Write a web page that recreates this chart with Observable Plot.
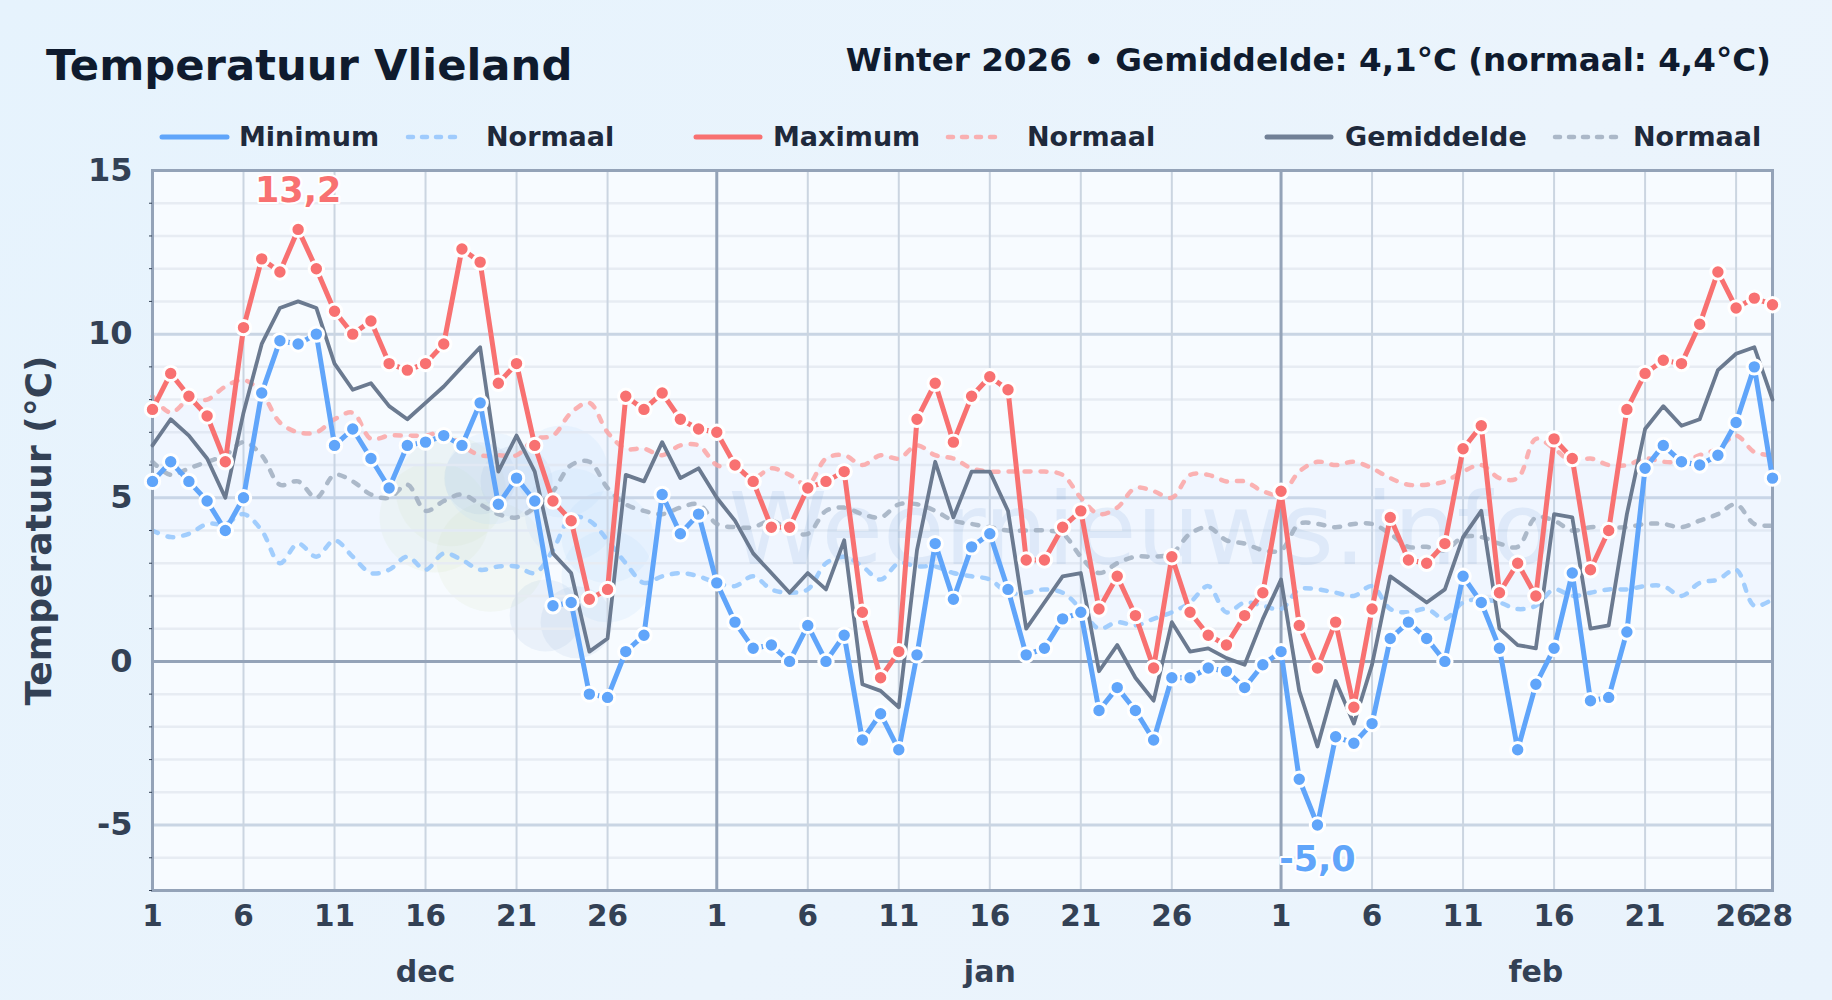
<!DOCTYPE html>
<html><head><meta charset="utf-8">
<script src="https://cdn.jsdelivr.net/npm/d3@7"></script>
<script src="https://cdn.jsdelivr.net/npm/@observablehq/plot@0.6"></script>
<style>
html,body{margin:0;padding:0;width:1832px;height:1000px;overflow:hidden;background:linear-gradient(135deg,#e6f3fd 0%,#ebf4fc 60%,#e9f3fc 100%);font-family:"DejaVu Sans",sans-serif;}
#wrap{position:relative;width:1832px;height:1000px;}
.t{position:absolute;white-space:nowrap;font-weight:700;line-height:1;}
#title{left:46px;top:44px;font-size:43.3px;color:#0f1b2e;}
#sub{right:61px;top:44px;font-size:32.6px;color:#0f1b2e;}
.lg{position:absolute;top:124px;font-size:27px;font-weight:700;color:#1e293b;line-height:26px;white-space:nowrap;}
.sw{position:absolute;top:120px;}
#chart{position:absolute;left:0;top:140px;}
</style></head><body>
<div id="wrap">
<div id="title" class="t">Temperatuur Vlieland</div>
<div id="sub" class="t">Winter 2026 • Gemiddelde: 4,1°C (normaal: 4,4°C)</div>
<div id="legend"></div>
<div id="chart"></div>
</div>
<script>
const minTemp=[5.5,6.1,5.5,4.9,4.0,5.0,8.2,9.8,9.7,10.0,6.6,7.1,6.2,5.3,6.6,6.7,6.9,6.6,7.9,4.8,5.6,4.9,1.7,1.8,-1.0,-1.1,0.3,0.8,5.1,3.9,4.5,
2.4,1.2,0.4,0.5,0.0,1.1,0.0,0.8,-2.4,-1.6,-2.7,0.2,3.6,1.9,3.5,3.9,2.2,0.2,0.4,1.3,1.5,-1.5,-0.8,-1.5,-2.4,-0.5,-0.5,-0.2,-0.3,-0.8,-0.1,
0.3,-3.6,-5.0,-2.3,-2.5,-1.9,0.7,1.2,0.7,0.0,2.6,1.8,0.4,-2.7,-0.7,0.4,2.7,-1.2,-1.1,0.9,5.9,6.6,6.1,6.0,6.3,7.3,9.0,5.6];
const maxTemp=[7.7,8.8,8.1,7.5,6.1,10.2,12.3,11.9,13.2,12.0,10.7,10.0,10.4,9.1,8.9,9.1,9.7,12.6,12.2,8.5,9.1,6.6,4.9,4.3,1.9,2.2,8.1,7.7,8.2,7.4,7.1,
7.0,6.0,5.5,4.1,4.1,5.3,5.5,5.8,1.5,-0.5,0.3,7.4,8.5,6.7,8.1,8.7,8.3,3.1,3.1,4.1,4.6,1.6,2.6,1.4,-0.2,3.2,1.5,0.8,0.5,1.4,2.1,
5.2,1.1,-0.2,1.2,-1.4,1.6,4.4,3.1,3.0,3.6,6.5,7.2,2.1,3.0,2.0,6.8,6.2,2.8,4.0,7.7,8.8,9.2,9.1,10.3,11.9,10.8,11.1,10.9];
const meanTemp=[6.6,7.4,6.9,6.2,5.0,7.6,9.7,10.8,11.0,10.8,9.1,8.3,8.5,7.8,7.4,7.9,8.4,9.0,9.6,5.8,6.9,5.8,3.3,2.7,0.3,0.7,5.7,5.5,6.7,5.6,5.9,
5.0,4.3,3.3,2.7,2.1,2.7,2.2,3.7,-0.7,-0.9,-1.4,3.4,6.1,4.4,5.8,5.8,4.6,1.0,1.8,2.6,2.7,-0.3,0.5,-0.5,-1.2,1.2,0.3,0.4,0.1,-0.1,1.3,
2.5,-0.9,-2.6,-0.6,-1.9,-0.1,2.6,2.2,1.8,2.2,3.8,4.6,1.0,0.5,0.4,4.5,4.4,1.0,1.1,4.5,7.1,7.8,7.2,7.4,8.9,9.4,9.6,8.0];
const normMax=[8.1,7.6,8.0,8.0,8.4,8.6,8.2,7.3,7.0,7.0,7.4,7.6,6.8,6.9,6.9,6.9,7.0,6.6,6.3,6.3,6.3,6.8,6.9,7.6,7.9,7.0,6.5,6.5,6.3,6.6,6.6,
6.0,5.9,5.6,5.9,5.7,5.4,6.2,6.3,6.0,6.3,6.2,6.6,6.3,6.2,5.9,5.8,5.8,5.8,5.8,5.7,5.0,4.5,4.7,5.3,5.2,5.0,5.7,5.7,5.5,5.5,5.2,
5.1,5.8,6.1,6.0,6.1,5.9,5.6,5.4,5.4,5.5,5.8,6.0,5.6,5.6,6.8,6.5,6.1,6.2,6.0,6.0,6.2,6.1,6.1,6.3,6.5,6.9,6.4,6.3];
const normMean=[6.1,5.7,5.9,6.1,6.3,6.7,6.3,5.4,5.5,5.0,5.7,5.5,5.1,5.0,5.4,4.6,4.9,5.1,4.8,4.5,4.4,4.7,5.2,6.0,6.1,5.3,4.8,4.6,4.5,4.7,4.8,
4.2,4.1,4.1,4.3,4.0,3.9,4.6,4.7,4.5,4.4,4.8,4.8,4.6,4.3,4.2,4.1,4.0,4.0,4.0,3.9,3.2,2.7,3.0,3.2,3.2,3.3,3.9,4.1,3.7,3.6,3.4,
3.4,4.2,4.2,4.1,4.2,4.2,3.9,3.5,3.5,3.4,3.8,3.8,3.6,3.5,4.4,4.3,4.0,4.1,4.1,4.1,4.2,4.2,4.1,4.3,4.5,4.8,4.2,4.15];
const normMin=[4.0,3.8,3.9,4.2,4.2,4.5,4.0,3.0,3.6,3.2,3.7,3.2,2.7,2.8,3.2,2.8,3.3,3.1,2.8,2.9,2.9,2.7,3.4,4.4,4.3,3.7,3.0,2.4,2.6,2.7,2.6,
2.4,2.3,2.6,2.2,2.1,2.2,3.0,3.2,2.9,2.5,3.0,2.9,2.9,2.7,2.6,2.5,2.1,2.1,2.2,2.1,1.6,1.0,1.2,1.1,1.3,1.5,1.8,2.3,1.5,1.8,1.7,
1.6,2.2,2.2,2.1,2.0,2.3,1.6,1.5,1.6,1.3,1.8,1.9,1.8,1.6,1.7,2.2,2.0,2.1,2.2,2.2,2.3,2.3,2.0,2.4,2.5,2.8,1.7,1.9];
const monthNames=["dec","jan","feb"];
const monthLabelDays=[15,46,76];
const monthStarts=[31,62];
const tickDays=[0,5,10,15,20,25,31,36,41,46,51,56,62,67,72,77,82,87,89];
const tickLabels=["1","6","11","16","21","26","1","6","11","16","21","26","1","6","11","16","21","26","28"];
const gridDays=tickDays.slice(1).filter(d=>!monthStarts.includes(d));
const minorY=[-7,-6,-4,-3,-2,-1,1,2,3,4,6,7,8,9,11,12,13,14];
const majorY=[-5,5,10];
const labelsY=[-5,0,5,10,15];
const extremes=[{d:8,v:13.2,l:"13,2"},{d:64,v:-5.0,l:"-5,0"}];
const legendItems=[
 ["Minimum","#60a5fa",false,162,227,239],["Normaal","#93c5fd",true,408,464,486],
 ["Maximum","#f87171",false,696,760,773],["Normaal","#fca5a5",true,948,1004,1027],
 ["Gemiddelde","#718096",false,1267,1331,1345],["Normaal","#a0aec0",true,1555,1616,1633]];
const logoGreen=[[16.4,5.2],[18.6,3.2],[15.5,4.4]];
const logoBlue=[[18.6,5.6],[22.5,5.8],[25,3.8],[25,2.6],[23,4.5]];
const logoDeep=[[21.6,1.4],[23.3,1.2],[18,5.6],[20,5.5]];

const days=d3.range(90);
const rows=days.map(i=>({i,min:minTemp[i],max:maxTemp[i],mean:meanTemp[i],nMin:normMin[i],nMax:normMax[i],nMean:normMean[i]}));

const lg=document.getElementById("legend");
for(const [txt,col,dash,x1,x2,tx] of legendItems){
  const s=document.createElementNS("http://www.w3.org/2000/svg","svg");
  s.setAttribute("class","sw");s.setAttribute("width",x2-x1+8);s.setAttribute("height",34);
  s.style.left=(x1-4)+"px";
  const l=document.createElementNS("http://www.w3.org/2000/svg","line");
  l.setAttribute("x1",4);l.setAttribute("x2",x2-x1+4);l.setAttribute("y1",17);l.setAttribute("y2",17);
  l.setAttribute("stroke",col);l.setAttribute("stroke-width",dash?4.5:5);
  l.setAttribute("stroke-linecap","round");
  if(dash){l.setAttribute("stroke-dasharray","5 9");l.setAttribute("opacity",0.85);}
  s.appendChild(l);lg.appendChild(s);
  const t=document.createElement("div");t.className="lg";t.textContent=txt;t.style.left=tx+"px";lg.appendChild(t);
}

const dashOpts={x:"i",curve:"catmull-rom",strokeWidth:4.5,strokeDasharray:"6 10",strokeLinecap:"round",strokeOpacity:0.85};
const chart=Plot.plot({
  width:1832,height:860,
  marginTop:30,marginBottom:110,marginLeft:152,marginRight:60,
  style:{background:"transparent",fontFamily:"DejaVu Sans",overflow:"visible"},
  x:{domain:[0,89],type:"linear"},
  y:{domain:[-7,15]},
  marks:[
    Plot.frame({fill:"#f7fbff",stroke:null}),
    Plot.dot(logoGreen,{x:d=>d[0],y:d=>d[1],r:55,fill:"#cfe3b0",opacity:0.13}),
    Plot.dot(logoBlue,{x:d=>d[0],y:d=>d[1],r:46,fill:"#b6d8f7",opacity:0.16}),
    Plot.dot(logoDeep,{x:d=>d[0],y:d=>d[1],r:36,fill:"#94b4da",opacity:0.13}),
    Plot.ruleY(minorY.concat([15]),{stroke:"#e7ecf3",strokeWidth:2.5}),
    Plot.ruleY(majorY,{stroke:"#c9d5e4",strokeWidth:3}),
    Plot.ruleX(gridDays,{stroke:"#cbd5e1",strokeWidth:2}),
    Plot.ruleX(monthStarts,{stroke:"#94a3b8",strokeWidth:3}),
    Plot.ruleY([0],{stroke:"#94a3b8",strokeWidth:3}),
    Plot.areaY(rows,{x:"i",y1:"nMin",y2:"nMax",curve:"catmull-rom",fill:"#bfdbfe",fillOpacity:0.13}),
    Plot.text(["Weernieuws.info"],{x:[54.3],y:[3.96],text:d=>d,fontSize:100,fontWeight:400,fill:"#7aa5d8",opacity:0.15}),
    Plot.line(rows,{...dashOpts,y:"nMin",stroke:"#93c5fd"}),
    Plot.line(rows,{...dashOpts,y:"nMax",stroke:"#fca5a5"}),
    Plot.line(rows,{...dashOpts,y:"nMean",stroke:"#a0aec0"}),
    Plot.frame({stroke:"#94a3b8",strokeWidth:3}),
    Plot.line(rows,{x:"i",y:"mean",stroke:"#6b7a90",strokeWidth:3.8}),
    Plot.line(rows,{x:"i",y:"min",stroke:"#60a5fa",strokeWidth:5}),
    Plot.dot(rows,{x:"i",y:"min",r:7.2,fill:"#60a5fa",stroke:"#fff",strokeWidth:3}),
    Plot.line(rows,{x:"i",y:"max",stroke:"#f87171",strokeWidth:5}),
    Plot.dot(rows,{x:"i",y:"max",r:7.2,fill:"#f87171",stroke:"#fff",strokeWidth:3}),
    Plot.axisY({ticks:minorY,tickSize:3,stroke:"#334155",tickFormat:()=>""}),
    Plot.axisY({ticks:labelsY,tickSize:0,tickPadding:20,fontSize:32,fontWeight:700,fill:"#334155",tickFormat:d=>String(d),label:null}),
    Plot.axisX({ticks:tickDays,tickSize:0,tickPadding:15,fontSize:29.5,fontWeight:700,fill:"#334155",tickFormat:d=>tickLabels[tickDays.indexOf(d)],label:null}),
    Plot.text(monthNames,{x:(d,i)=>monthLabelDays[i],y:()=>-7,dy:82,text:d=>d,fontSize:30,fontWeight:700,fill:"#334155"}),
    Plot.text(["Temperatuur (°C)"],{x:[0],y:[4],text:d=>d,dx:-113,rotate:-90,fontSize:36,fontWeight:700,fill:"#334155"}),
    Plot.text([extremes[0]],{x:"d",y:"v",text:"l",dy:-39,fontSize:35,fontWeight:700,fill:"#f87171",stroke:"#fff",strokeWidth:4,paintOrder:"stroke"}),
    Plot.text([extremes[1]],{x:"d",y:"v",text:"l",dy:35,fontSize:35,fontWeight:700,fill:"#60a5fa",stroke:"#fff",strokeWidth:4,paintOrder:"stroke"})
  ]
});
document.getElementById("chart").appendChild(chart);
</script>
</body></html>
